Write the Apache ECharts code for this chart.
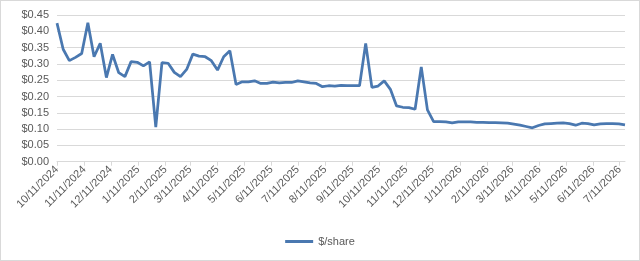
<!DOCTYPE html>
<html lang="en">
<head>
  <meta charset="UTF-8">
  <title>$/share</title>
  <style>
    html, body { margin: 0; padding: 0; background: #fff; }
    #frame {
      width: 640px;
      height: 261px;
      box-sizing: border-box;
      border: 1px solid #d9d9d9;
      position: relative;
    }
    #chart { position: absolute; left: -1px; top: -1px; width: 640px; height: 261px; }
  </style>
</head>
<body>
  <div id="frame"><div id="chart"></div></div>
  <script src="https://cdn.jsdelivr.net/npm/echarts@6/dist/echarts.min.js"></script>
  <script>
// weekly values, first point on 10/11/2024
const startDate = '2024-10-11';
const endDate = '2026-07-17';
const seriesName = '$/share';
const perShare = [
  0.425, 0.345, 0.310, 0.320, 0.332, 0.426, 0.322, 0.363, 0.258, 0.329,
  0.273, 0.261, 0.307, 0.305, 0.294, 0.306, 0.106, 0.304, 0.302, 0.274,
  0.261, 0.283, 0.330, 0.324, 0.322, 0.310, 0.281, 0.322, 0.340, 0.237,
  0.245, 0.245, 0.248, 0.240, 0.240, 0.244, 0.242, 0.243, 0.243, 0.248,
  0.245, 0.242, 0.240, 0.230, 0.233, 0.232, 0.234, 0.233, 0.233, 0.233,
  0.363, 0.228, 0.232, 0.248, 0.222, 0.171, 0.167, 0.166, 0.161, 0.291,
  0.159, 0.123, 0.123, 0.122, 0.119, 0.122, 0.122, 0.122, 0.121, 0.121,
  0.120, 0.120, 0.119, 0.118, 0.115, 0.112, 0.108, 0.104, 0.111, 0.116,
  0.117, 0.118, 0.119, 0.117, 0.112, 0.118, 0.117, 0.113, 0.116, 0.117,
  0.117, 0.116, 0.113
];

function fmt(d) {
  return (d.getUTCMonth() + 1) + '/' + d.getUTCDate() + '/' + d.getUTCFullYear();
}

// one category per day so month ticks land on the 11th
const days = [];
const t0 = new Date(startDate + 'T00:00:00Z');
const t1 = new Date(endDate + 'T00:00:00Z');
for (let d = new Date(t0); d <= t1; d.setUTCDate(d.getUTCDate() + 1)) {
  days.push(fmt(d));
}
const isTickDay = (idx, val) => val.split('/')[1] === '11';

const points = perShare.map((v, i) => {
  const d = new Date(t0);
  d.setUTCDate(d.getUTCDate() + i * 7);
  return [fmt(d), v];
});

const chart = echarts.init(document.getElementById('chart'));
const txt = '#595959';
chart.setOption({
  backgroundColor: 'transparent',
  animation: false,
  textStyle: { fontFamily: 'Liberation Sans' },
  grid: { left: 57, right: 15, top: 15, bottom: 99.3, containLabel: false },
  legend: {
    bottom: 9,
    left: 'center',
    icon: 'rect',
    itemWidth: 28,
    itemHeight: 3,
    itemGap: 5,
    textStyle: { color: txt, fontSize: 11 },
    data: [seriesName]
  },
  xAxis: {
    type: 'category',
    data: days,
    boundaryGap: false,
    axisLine: { lineStyle: { color: '#d9d9d9' } },
    axisTick: { interval: isTickDay, length: 4, lineStyle: { color: '#d9d9d9' } },
    axisLabel: {
      interval: isTickDay,
      rotate: 45,
      color: txt,
      fontSize: 11,
      margin: 6
    },
    splitLine: { show: false }
  },
  yAxis: {
    type: 'value',
    min: 0,
    max: 0.45,
    interval: 0.05,
    axisLine: { show: false },
    axisTick: { show: false },
    axisLabel: {
      color: txt,
      fontSize: 11,
      margin: 8,
      formatter: v => '$' + v.toFixed(2)
    },
    splitLine: { lineStyle: { color: '#d9d9d9' } }
  },
  series: [{
    name: seriesName,
    type: 'line',
    data: points,
    connectNulls: true,
    showSymbol: false,
    symbol: 'none',
    color: '#4a78b0',
    lineStyle: { width: 2.75, color: '#4a78b0' }
  }]
});
  </script>
</body>
</html>
